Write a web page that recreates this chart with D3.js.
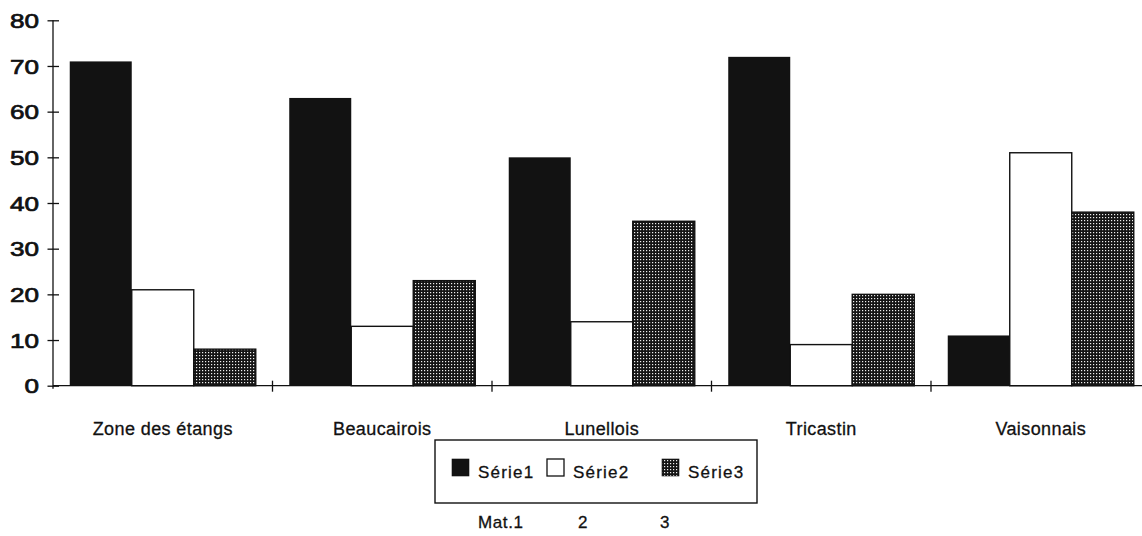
<!DOCTYPE html>
<html>
<head>
<meta charset="utf-8">
<script src="https://cdn.jsdelivr.net/npm/d3@7"></script>
<style>
html,body{margin:0;padding:0;background:#fff;}
svg{display:block;}
text{font-family:"Liberation Sans",Arial,Helvetica,sans-serif;fill:#111;}
</style>
</head>
<body>
<svg id="chart" width="1142" height="536"></svg>
<script>
const categories = ["Zone des étangs", "Beaucairois", "Lunellois", "Tricastin", "Vaisonnais"];
const seriesNames = ["Série1", "Série2", "Série3"];
const serie1 = [71, 63, 50, 72, 11];
const serie2 = [21, 13, 14, 9, 51];
const serie3 = [8, 23, 36, 20, 38];
const yTicks = [0, 10, 20, 30, 40, 50, 60, 70, 80];
const matLabels = ["Mat.1", "2", "3"];

const values = [serie1, serie2, serie3];
const svg = d3.select("#chart");

// pattern for Série3
const defs = svg.append("defs");
const pat = defs.append("pattern").attr("id", "dots")
  .attr("patternUnits", "userSpaceOnUse").attr("width", 3).attr("height", 3);
pat.append("rect").attr("width", 3).attr("height", 3).attr("fill", "#151515");
pat.append("rect").attr("x", 1).attr("y", 1).attr("width", 1.2).attr("height", 1.2).attr("fill", "#f0f0f0");

const fills = ["#121212", "#ffffff", "url(#dots)"];

const x0 = 53, xEnd = 53 + 5 * 219.5;
const x = d3.scaleBand().domain(categories).range([x0, xEnd]).padding(0);
const xs = d3.scaleBand().domain(seriesNames).range([0, x.bandwidth()]).paddingInner(0).paddingOuter(0.27);
const y = d3.scaleLinear().domain([0, 80]).range([385.7, 20.3]);

// bars
const rows = [];
categories.forEach((c, i) => seriesNames.forEach((s, j) => rows.push({c, s, j, v: values[j][i]})));
svg.append("g").selectAll("rect").data(rows).join("rect")
  .attr("x", d => x(d.c) + xs(d.s))
  .attr("y", d => y(d.v))
  .attr("width", xs.bandwidth())
  .attr("height", d => y(0) - y(d.v))
  .attr("fill", d => fills[d.j])
  .attr("stroke", "#111")
  .attr("stroke-width", d => d.j === 0 ? 0 : 1.4);

// y axis
const yAxis = d3.axisLeft(y).tickValues(yTicks).tickSize(6).tickPadding(0);
const gy = svg.append("g").attr("transform", `translate(${x0},0)`).call(yAxis);
gy.select(".domain").attr("stroke", "#111").attr("stroke-width", 1.3).attr("d", `M0,${y(80)}V${y(0) + 3}`);
gy.selectAll(".tick line").attr("x1", -5.5).attr("x2", 6).attr("stroke", "#111").attr("stroke-width", 1.3);
gy.selectAll(".tick text")
  .attr("x", -14)
  .attr("dy", "0.36em")
  .attr("textLength", d => String(d).length * 14.5)
  .attr("lengthAdjust", "spacingAndGlyphs")
  .style("font-size", "20px")
  .attr("stroke", "#111").attr("stroke-width", 0.7)
  .attr("fill", "#1a1a1a");

// x axis
const xAxis = d3.axisBottom(x).tickSize(0).tickPadding(0);
const gx = svg.append("g").attr("transform", `translate(0,${y(0)})`).call(xAxis);
gx.select(".domain").attr("stroke", "#111").attr("stroke-width", 1.3).attr("d", `M${x0},0H1142`);
gx.selectAll(".tick text")
  .attr("y", 37)
  .style("font-size", "18px")
  .style("letter-spacing", "0.4px")
  .attr("stroke", "#111").attr("stroke-width", 0.3)
  .attr("fill", "#111");
// category boundary ticks
svg.append("g").selectAll("line").data(categories.slice(1)).join("line")
  .attr("x1", d => x(d)).attr("x2", d => x(d))
  .attr("y1", y(0) - 5).attr("y2", y(0) + 6)
  .attr("stroke", "#111").attr("stroke-width", 1.3);

// legend
const lg = svg.append("g");
lg.append("rect").attr("x", 435).attr("y", 440).attr("width", 322).attr("height", 63)
  .attr("fill", "#fff").attr("stroke", "#111").attr("stroke-width", 1.4);
const legX = [452, 547, 662];
seriesNames.forEach((s, j) => {
  lg.append("rect").attr("x", legX[j]).attr("y", 459).attr("width", 17).attr("height", 17)
    .attr("fill", fills[j]).attr("stroke", "#111").attr("stroke-width", j === 1 ? 1.3 : 0.6);
  lg.append("text").attr("x", legX[j] + 26).attr("y", 477.5)
    .style("font-size", "17px").style("letter-spacing", "1.2px")
    .attr("stroke", "#111").attr("stroke-width", 0.3).text(s);
});
const matX = [478, 578, 660];
matLabels.forEach((m, j) => {
  lg.append("text").attr("x", matX[j]).attr("y", 528)
    .style("font-size", "17px").style("letter-spacing", "0.6px")
    .attr("stroke", "#111").attr("stroke-width", 0.3).text(m);
});
</script>
</body>
</html>
